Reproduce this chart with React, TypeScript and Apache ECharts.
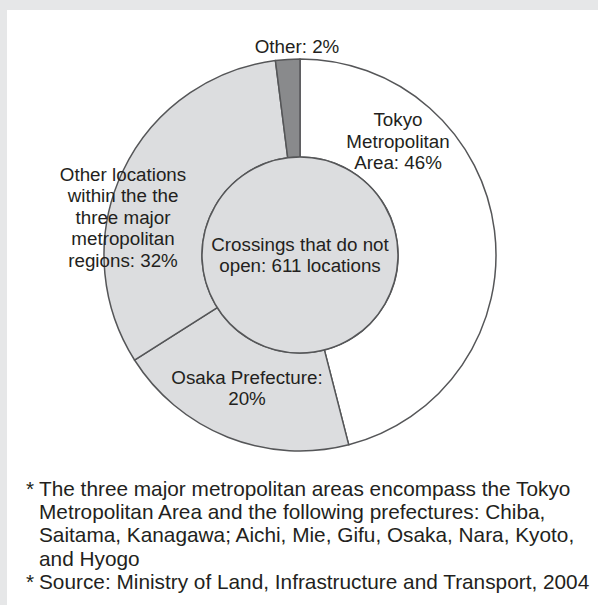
import React, { useEffect, useRef } from "react";
import * as echarts from "echarts";

const categories = [
  "Tokyo\nMetropolitan\nArea: 46%",
  "Osaka Prefecture:\n20%",
  "Other locations\nwithin the the\nthree major\nmetropolitan\nregions: 32%",
  "Other: 2%",
];
const values = [46, 20, 32, 2];
const sliceColors = ["#ffffff", "#dcdddf", "#dcdddf", "#898a8c"];
const centerLabel = "Crossings that do not\nopen: 611 locations";
const centerValue = [611];
const footnotes = [
  "The three major metropolitan areas encompass the Tokyo\nMetropolitan Area and the following prefectures: Chiba,\nSaitama, Kanagawa; Aichi, Mie, Gifu, Osaka, Nara, Kyoto,\nand Hyogo",
  "Source: Ministry of Land, Infrastructure and Transport, 2004",
];
const labelPos = [
  [398, 141],
  [247, 388],
  [123, 217],
  [297, 46],
];

const FONT = "'Liberation Sans', Arial, Helvetica, sans-serif";
const TXT = "#231f20";
const FS = 18.8;
const FN = 20.8;
const FLH = 23.3;

export default function App() {
  const ref = useRef<HTMLDivElement>(null);
  useEffect(() => {
    document.body.style.margin = "0";
    const chart = echarts.init(ref.current!, null, { renderer: "svg" });
    const labelTexts = categories.map((c, i) => ({
      type: "text",
      x: labelPos[i][0],
      y: labelPos[i][1],
      z: 100,
      style: {
        text: c,
        fill: TXT,
        font: `${FS}px ${FONT}`,
        lineHeight: 21.5,
        align: "center",
        verticalAlign: "middle",
      },
    }));
    chart.setOption({
      animation: false,
      backgroundColor: "#e6e7e8",
      graphic: [
        {
          type: "rect",
          z: -10,
          shape: { x: 7, y: 10, width: 600, height: 600 },
          style: { fill: "#ffffff" },
        },
        ...labelTexts,
        {
          type: "text",
          x: 26,
          y: 476.5,
          style: { text: "*", fill: TXT, font: `${FN}px ${FONT}`, lineHeight: FLH },
        },
        {
          type: "text",
          x: 39,
          y: 476.5,
          style: {
            text: footnotes[0],
            fill: TXT,
            font: `${FN}px ${FONT}`,
            lineHeight: FLH,
          },
        },
        {
          type: "text",
          x: 26,
          y: 569.7,
          style: { text: "*", fill: TXT, font: `${FN}px ${FONT}`, lineHeight: FLH },
        },
        {
          type: "text",
          x: 39,
          y: 569.7,
          style: {
            text: footnotes[1],
            fill: TXT,
            font: `${FN}px ${FONT}`,
            lineHeight: FLH,
          },
        },
      ],
      series: [
        {
          type: "pie",
          center: [300, 255],
          radius: [98, 196],
          startAngle: 90,
          clockwise: true,
          label: { show: false },
          labelLine: { show: false },
          silent: true,
          itemStyle: { borderColor: "#555658", borderWidth: 1.5 },
          data: values.map((v, i) => ({
            value: v,
            name: categories[i],
            itemStyle: { color: sliceColors[i] },
          })),
        },
        {
          type: "pie",
          center: [300, 255],
          radius: [0, 98],
          silent: true,
          label: {
            show: true,
            position: "center",
            formatter: centerLabel,
            color: TXT,
            fontFamily: FONT,
            fontSize: FS,
            lineHeight: 21,
          },
          labelLine: { show: false },
          itemStyle: { color: "#dcdddf", borderColor: "#555658", borderWidth: 1.5 },
          data: centerValue.map((v) => ({ value: v, name: "center" })),
        },
      ],
    });
    return () => chart.dispose();
  }, []);
  return <div ref={ref} style={{ width: 598, height: 605 }} />;
}
